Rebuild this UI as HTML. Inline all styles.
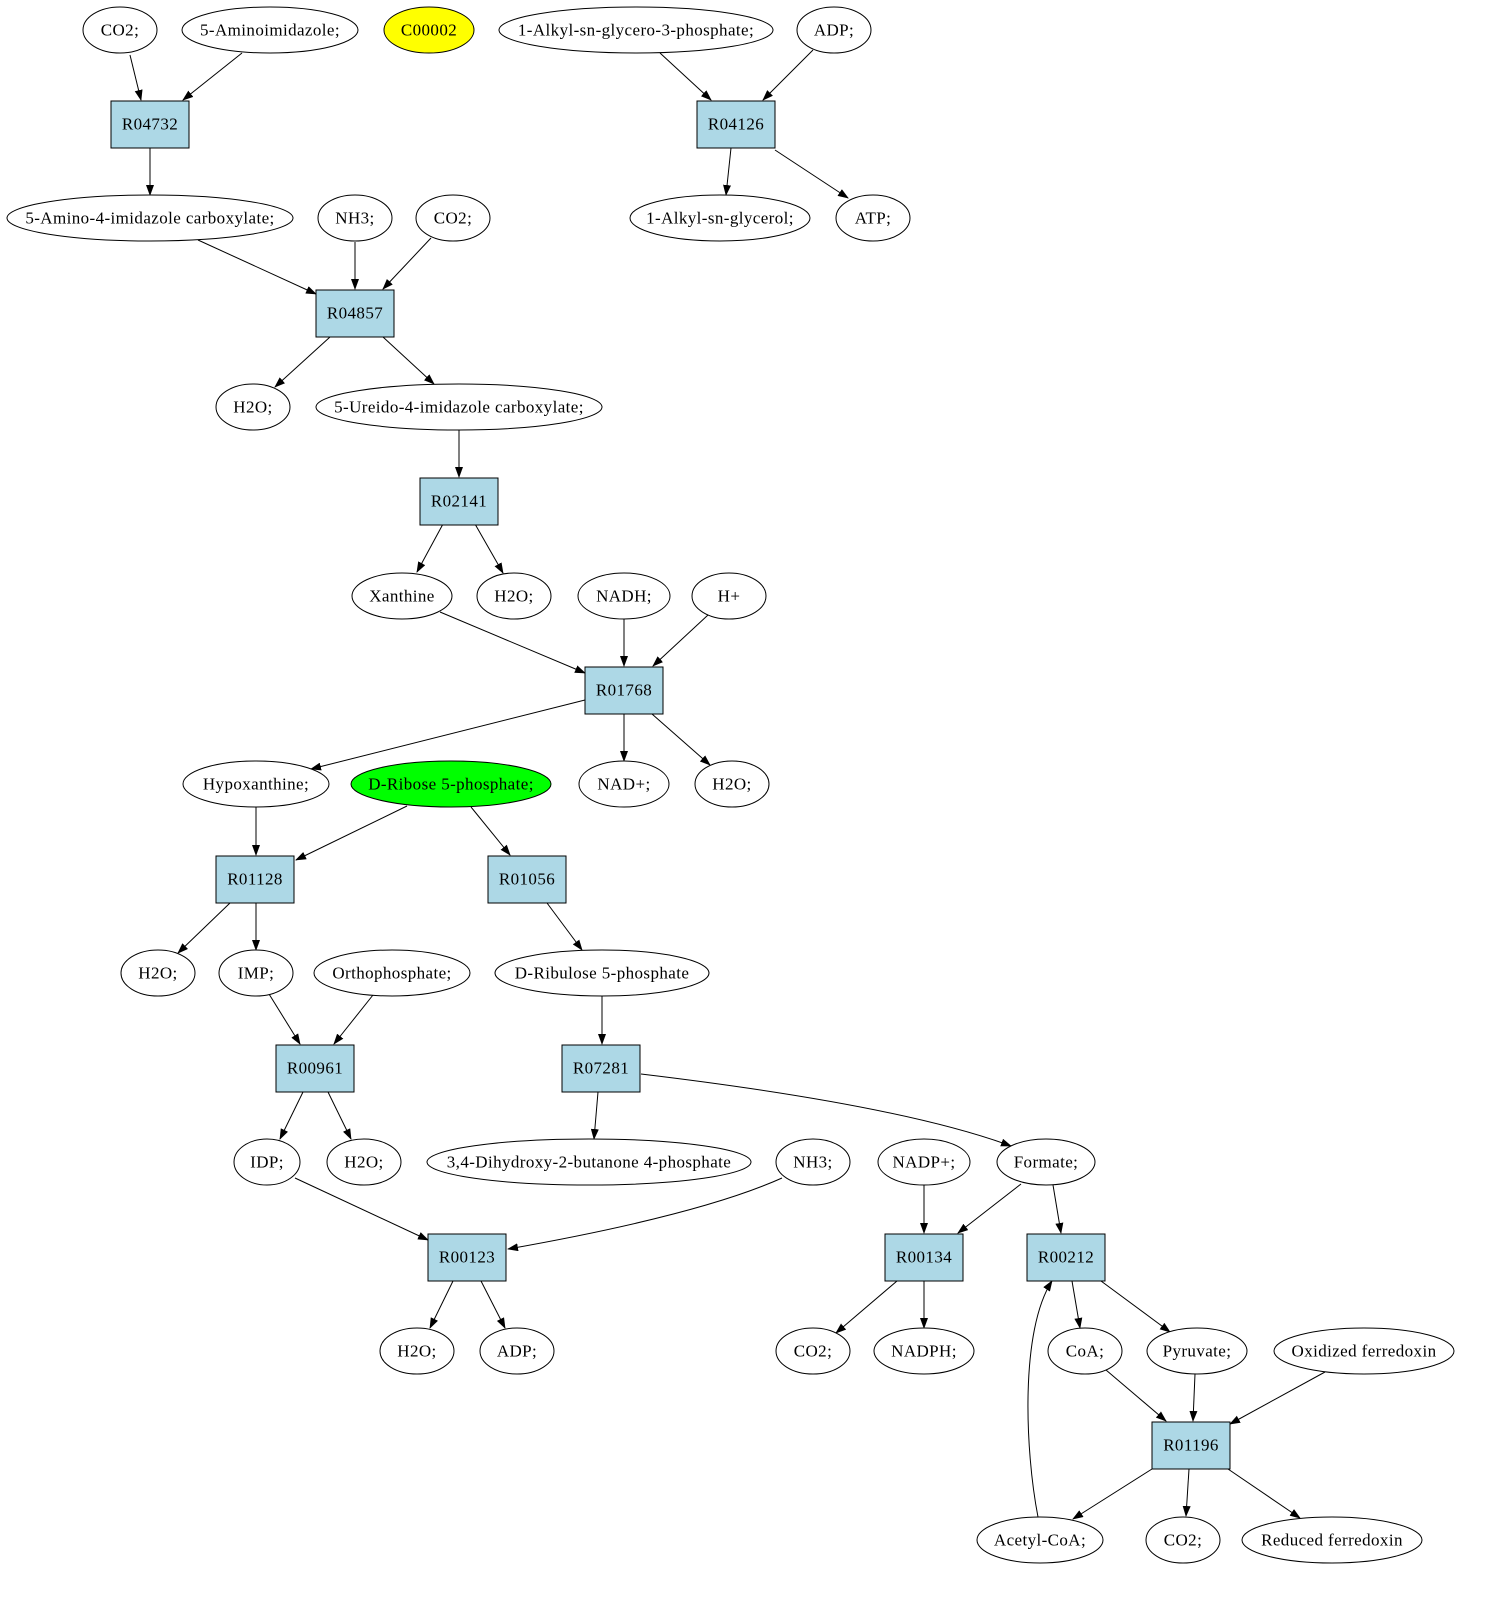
<!DOCTYPE html>
<html><head><meta charset="utf-8"><style>
html,body{margin:0;padding:0;background:#fff;}
svg text{font-family:"Liberation Serif",serif;font-size:17px;letter-spacing:0.4px;text-anchor:middle;dominant-baseline:central;}
</style></head><body>
<svg width="1485" height="1595" viewBox="0 0 1485 1595" xmlns="http://www.w3.org/2000/svg">
<defs><marker id="a" markerWidth="11" markerHeight="8" refX="10" refY="4" orient="auto" markerUnits="userSpaceOnUse"><path d="M0,0 L11,4 L0,8 z" fill="#000"/></marker></defs>
<g stroke="#000" stroke-width="1" fill="none" marker-end="url(#a)">
<path d="M130,55 L141,100"/>
<path d="M242,53 L183,100"/>
<path d="M813,50 L763,100"/>
<path d="M660,53 L711,100"/>
<path d="M150,148 L150,195"/>
<path d="M731,148 L726,195"/>
<path d="M775,150 L848,198"/>
<path d="M198,240 L316,294"/>
<path d="M355,242 L355,289"/>
<path d="M431,238 L383,289"/>
<path d="M330,337 L275,387"/>
<path d="M383,337 L434,384"/>
<path d="M459,430 L459,477"/>
<path d="M443,524 L417,572"/>
<path d="M475,524 L503,573"/>
<path d="M440,612 L585,673"/>
<path d="M624,619 L624,666"/>
<path d="M708,615 L653,666"/>
<path d="M585,700 L311,769"/>
<path d="M624,714 L624,761"/>
<path d="M652,714 L710,765"/>
<path d="M256,807 L256,855"/>
<path d="M407,806 L296,860"/>
<path d="M471,807 L510,855"/>
<path d="M230,903 L178,953"/>
<path d="M256,903 L256,950"/>
<path d="M547,903 L582,950"/>
<path d="M269,994 L300,1044"/>
<path d="M373,995 L334,1044"/>
<path d="M602,996 L602,1044"/>
<path d="M303,1092 L280,1139"/>
<path d="M328,1092 L351,1139"/>
<path d="M598,1092 L594,1139"/>
<path d="M641,1074 Q900,1105 1011,1146"/>
<path d="M295,1178 L428,1240"/>
<path d="M782,1178 Q700,1215 508,1249"/>
<path d="M924,1185 L924,1233"/>
<path d="M1021,1184 L958,1233"/>
<path d="M1053,1185 L1061,1233"/>
<path d="M453,1281 L430,1328"/>
<path d="M481,1281 L505,1328"/>
<path d="M897,1281 L836,1333"/>
<path d="M924,1281 L924,1328"/>
<path d="M1072,1281 L1080,1328"/>
<path d="M1101,1281 L1170,1332"/>
<path d="M1106,1370 L1166,1421"/>
<path d="M1195,1374 L1193,1421"/>
<path d="M1325,1372 L1230,1424"/>
<path d="M1152,1469 L1073,1519"/>
<path d="M1189,1469 L1186,1516"/>
<path d="M1228,1469 L1300,1518"/>
<path d="M1038,1517 C1025,1450 1020,1330 1052,1281"/>
</g>
<g stroke="#000" stroke-width="1" fill="#add8e6">
<rect x="111" y="101" width="78" height="47"/>
<rect x="697" y="101" width="78" height="47"/>
<rect x="316" y="290" width="78" height="47"/>
<rect x="420" y="478" width="78" height="47"/>
<rect x="585" y="667" width="78" height="47"/>
<rect x="216" y="856" width="78" height="47"/>
<rect x="488" y="856" width="78" height="47"/>
<rect x="276" y="1045" width="78" height="47"/>
<rect x="562" y="1045" width="78" height="47"/>
<rect x="428" y="1234" width="78" height="47"/>
<rect x="885" y="1234" width="78" height="47"/>
<rect x="1027" y="1234" width="78" height="47"/>
<rect x="1152" y="1422" width="78" height="47"/>
</g>
<g stroke="#000" stroke-width="1" fill="#fff">
<ellipse cx="120" cy="30" rx="37" ry="23"/>
<ellipse cx="270" cy="30" rx="88" ry="23"/>
<ellipse cx="429" cy="30" rx="45" ry="23" fill="#ffff00"/>
<ellipse cx="636" cy="30" rx="137" ry="23"/>
<ellipse cx="834" cy="30" rx="37" ry="23"/>
<ellipse cx="150" cy="218" rx="143" ry="23"/>
<ellipse cx="355" cy="218" rx="37" ry="23"/>
<ellipse cx="453" cy="218" rx="37" ry="23"/>
<ellipse cx="720" cy="218" rx="90" ry="23"/>
<ellipse cx="873" cy="218" rx="37" ry="23"/>
<ellipse cx="253" cy="407" rx="37" ry="23"/>
<ellipse cx="459" cy="407" rx="143" ry="23"/>
<ellipse cx="402" cy="596" rx="50" ry="23"/>
<ellipse cx="514" cy="596" rx="37" ry="23"/>
<ellipse cx="624" cy="596" rx="46" ry="23"/>
<ellipse cx="729" cy="596" rx="37" ry="23"/>
<ellipse cx="256" cy="784" rx="73" ry="23"/>
<ellipse cx="451" cy="784" rx="100" ry="23" fill="#00ff00"/>
<ellipse cx="624" cy="784" rx="45" ry="23"/>
<ellipse cx="732" cy="784" rx="37" ry="23"/>
<ellipse cx="158" cy="973" rx="37" ry="23"/>
<ellipse cx="256" cy="973" rx="37" ry="23"/>
<ellipse cx="392" cy="973" rx="78" ry="23"/>
<ellipse cx="602" cy="973" rx="107" ry="23"/>
<ellipse cx="267" cy="1162" rx="33" ry="23"/>
<ellipse cx="364" cy="1162" rx="37" ry="23"/>
<ellipse cx="589" cy="1162" rx="162" ry="23"/>
<ellipse cx="813" cy="1162" rx="37" ry="23"/>
<ellipse cx="924" cy="1162" rx="46" ry="23"/>
<ellipse cx="1046" cy="1162" rx="49" ry="23"/>
<ellipse cx="417" cy="1351" rx="37" ry="23"/>
<ellipse cx="517" cy="1351" rx="37" ry="23"/>
<ellipse cx="813" cy="1351" rx="37" ry="23"/>
<ellipse cx="924" cy="1351" rx="50" ry="23"/>
<ellipse cx="1085" cy="1351" rx="37" ry="23"/>
<ellipse cx="1197" cy="1351" rx="50" ry="23"/>
<ellipse cx="1364" cy="1351" rx="90" ry="23"/>
<ellipse cx="1040" cy="1540" rx="63" ry="23"/>
<ellipse cx="1183" cy="1540" rx="37" ry="23"/>
<ellipse cx="1332" cy="1540" rx="90" ry="23"/>
</g>
<g fill="#000">
<text x="150" y="124">R04732</text>
<text x="736" y="124">R04126</text>
<text x="355" y="313">R04857</text>
<text x="459" y="501">R02141</text>
<text x="624" y="690">R01768</text>
<text x="255" y="879">R01128</text>
<text x="527" y="879">R01056</text>
<text x="315" y="1068">R00961</text>
<text x="601" y="1068">R07281</text>
<text x="467" y="1257">R00123</text>
<text x="924" y="1257">R00134</text>
<text x="1066" y="1257">R00212</text>
<text x="1191" y="1445">R01196</text>
<text x="120" y="30">CO2;</text>
<text x="270" y="30">5-Aminoimidazole;</text>
<text x="429" y="30">C00002</text>
<text x="636" y="30">1-Alkyl-sn-glycero-3-phosphate;</text>
<text x="834" y="30">ADP;</text>
<text x="150" y="218">5-Amino-4-imidazole carboxylate;</text>
<text x="355" y="218">NH3;</text>
<text x="453" y="218">CO2;</text>
<text x="720" y="218">1-Alkyl-sn-glycerol;</text>
<text x="873" y="218">ATP;</text>
<text x="253" y="407">H2O;</text>
<text x="459" y="407">5-Ureido-4-imidazole carboxylate;</text>
<text x="402" y="596">Xanthine</text>
<text x="514" y="596">H2O;</text>
<text x="624" y="596">NADH;</text>
<text x="729" y="596">H+</text>
<text x="256" y="784">Hypoxanthine;</text>
<text x="451" y="784">D-Ribose 5-phosphate;</text>
<text x="624" y="784">NAD+;</text>
<text x="732" y="784">H2O;</text>
<text x="158" y="973">H2O;</text>
<text x="256" y="973">IMP;</text>
<text x="392" y="973">Orthophosphate;</text>
<text x="602" y="973">D-Ribulose 5-phosphate</text>
<text x="267" y="1162">IDP;</text>
<text x="364" y="1162">H2O;</text>
<text x="589" y="1162">3,4-Dihydroxy-2-butanone 4-phosphate</text>
<text x="813" y="1162">NH3;</text>
<text x="924" y="1162">NADP+;</text>
<text x="1046" y="1162">Formate;</text>
<text x="417" y="1351">H2O;</text>
<text x="517" y="1351">ADP;</text>
<text x="813" y="1351">CO2;</text>
<text x="924" y="1351">NADPH;</text>
<text x="1085" y="1351">CoA;</text>
<text x="1197" y="1351">Pyruvate;</text>
<text x="1364" y="1351">Oxidized ferredoxin</text>
<text x="1040" y="1540">Acetyl-CoA;</text>
<text x="1183" y="1540">CO2;</text>
<text x="1332" y="1540">Reduced ferredoxin</text>
</g>
</svg>
</body></html>
